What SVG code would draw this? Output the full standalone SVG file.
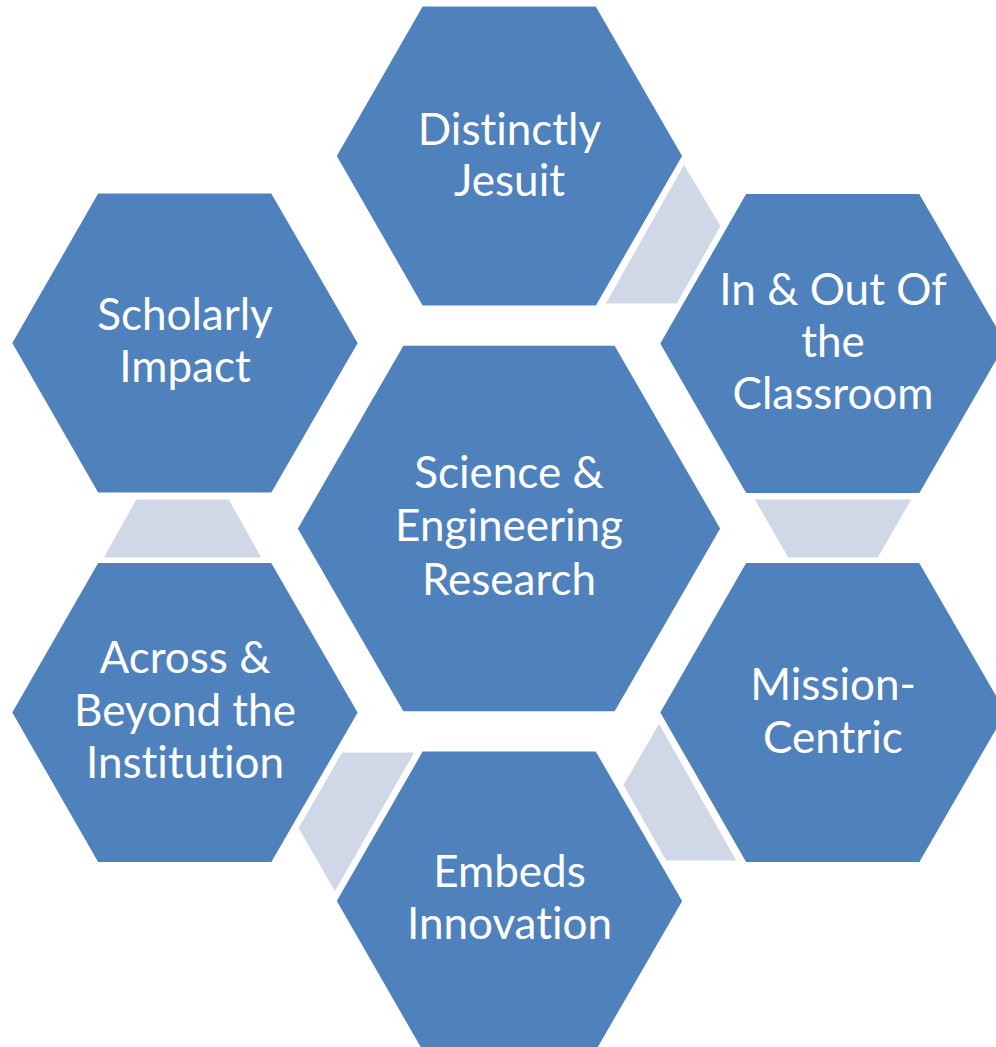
<svg xmlns="http://www.w3.org/2000/svg" width="996" height="1047" viewBox="0 0 996 1047">
<style>
.hex{fill:#4F81BD;stroke:#FFFFFF;stroke-width:1.5}
.con{fill:#D0D8E8;stroke:#FFFFFF;stroke-width:1}
.lbl{font-family:Lato,"Open Sans","Liberation Sans",sans-serif;font-size:44px;fill:#FFFFFF;text-anchor:middle;font-variant-ligatures:none;font-feature-settings:"liga" 0,"clig" 0}
</style>
<rect x="0" y="0" width="996" height="1047" fill="#FFFFFF"/>
<g id="connectors">
<polygon class="con" points="684,164 721,226 677,304 605,304"/>
<polygon class="con" points="754,499 912,499 878,558 788,558"/>
<polygon class="con" points="659,723 623,785 666,861 737,861"/>
<polygon class="con" points="342,752 415,752 335,892 298,828"/>
<polygon class="con" points="136,499 229,499 262,558 103,558"/>
</g>
<g id="node-center">
<polygon class="hex" points="297,528.5 403,344.9 615,344.9 721,528.5 615,712.1 403,712.1"/>
<text class="lbl" x="509" y="488">Science &amp;</text>
<text class="lbl" x="509" y="541">Engineering</text>
<text class="lbl" x="509" y="595">Research</text>
</g>
<g id="node-jesuit">
<polygon class="hex" points="336,156 422.25,5.75 596.25,5.75 683,156 596.25,306.25 422.25,306.25"/>
<text class="lbl" x="509.5" y="145">Distinctly</text>
<text class="lbl" x="509.5" y="196">Jesuit</text>
</g>
<g id="node-classroom">
<polygon class="hex" points="659.5,343.5 745.75,193.25 919.75,193.25 1006.5,343.5 919.75,493.75 745.75,493.75"/>
<text class="lbl" x="833" y="305">In &amp; Out Of</text>
<text class="lbl" x="833" y="357">the</text>
<text class="lbl" x="833" y="409">Classroom</text>
</g>
<g id="node-mission">
<polygon class="hex" points="659.5,712.5 745.75,562.25 919.75,562.25 1006.5,712.5 919.75,862.75 745.75,862.75"/>
<text class="lbl" x="833" y="700">Mission-</text>
<text class="lbl" x="833" y="753">Centric</text>
</g>
<g id="node-innovation">
<polygon class="hex" points="336,901 422.25,750.75 596.25,750.75 683,901 596.25,1051.25 422.25,1051.25"/>
<text class="lbl" x="509.5" y="887">Embeds</text>
<text class="lbl" x="509.5" y="939">Innovation</text>
</g>
<g id="node-across">
<polygon class="hex" points="11.5,712.5 97.75,562.25 271.75,562.25 358.5,712.5 271.75,862.75 97.75,862.75"/>
<text class="lbl" x="185" y="673">Across &amp;</text>
<text class="lbl" x="185" y="726">Beyond the</text>
<text class="lbl" x="185" y="778">Institution</text>
</g>
<g id="node-scholarly">
<polygon class="hex" points="11.5,343 97.75,192.75 271.75,192.75 358.5,343 271.75,493.25 97.75,493.25"/>
<text class="lbl" x="185" y="330">Scholarly</text>
<text class="lbl" x="185" y="382">Impact</text>
</g>
</svg>
